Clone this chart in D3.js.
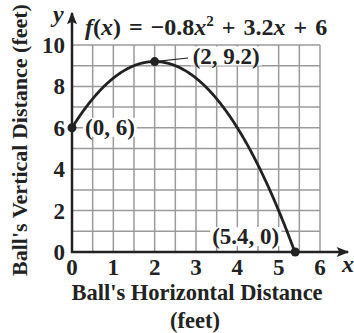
<!DOCTYPE html>
<html>
<head>
<meta charset="utf-8">
<script src="https://cdn.jsdelivr.net/npm/d3@7"></script>
<style>
  body { margin: 0; background: #fff; }
  text { font-family: "Liberation Serif", "DejaVu Serif", serif; font-weight: bold; fill: #222; }
</style>
</head>
<body>
<svg width="354" height="333"></svg>
<script>
// chart data
const xTicks = [0, 1, 2, 3, 4, 5, 6];
const yTicks = [0, 2, 4, 6, 8, 10];
const xGrid = [0, 0.5, 1, 1.5, 2, 2.5, 3, 3.5, 4, 4.5, 5, 5.5, 6];
const yGrid = [0, 1, 2, 3, 4, 5, 6, 7, 8, 9, 10];
const coef = [-0.8, 3.2, 6];          // a, b, c from the title
const xDomainCurve = [0, 5.4];
const points = [
  { x: 0, y: 6, label: "(0, 6)" },
  { x: 2, y: 9.2, label: "(2, 9.2)" },
  { x: 5.4, y: 0, label: "(5.4, 0)" }
];

const svg = d3.select("svg");

// scales
const x = d3.scaleLinear().domain([0, 6]).range([72, 320]);
const y = d3.scaleLinear().domain([0, 10]).range([252, 45]);

// grid
const grid = svg.append("g").attr("stroke", "#9a9a9a").attr("stroke-width", 1.5);
grid.selectAll(".vx").data(xGrid).enter().append("line")
  .attr("x1", d => x(d)).attr("x2", d => x(d))
  .attr("y1", y(0)).attr("y2", y(10));
grid.selectAll(".hy").data(yGrid).enter().append("line")
  .attr("x1", x(0)).attr("x2", x(6))
  .attr("y1", d => y(d)).attr("y2", d => y(d));

// axes with arrows
svg.append("defs").append("marker")
  .attr("id", "arr").attr("viewBox", "0 0 10 10")
  .attr("refX", 9).attr("refY", 5)
  .attr("markerWidth", 6).attr("markerHeight", 5)
  .attr("markerUnits", "strokeWidth")
  .attr("orient", "auto")
  .append("path").attr("d", "M0,1 L10,5 L0,9 L2,5 Z").attr("fill", "#222");

svg.append("line")
  .attr("x1", x(0) - 1).attr("x2", 348)
  .attr("y1", y(0)).attr("y2", y(0))
  .attr("stroke", "#222").attr("stroke-width", 2.5)
  .attr("marker-end", "url(#arr)");
svg.append("line")
  .attr("x1", x(0)).attr("x2", x(0))
  .attr("y1", y(0) + 1).attr("y2", 13)
  .attr("stroke", "#222").attr("stroke-width", 2.5)
  .attr("marker-end", "url(#arr)");

// tick labels
svg.selectAll(".xt").data(xTicks).enter().append("text")
  .attr("x", d => x(d)).attr("y", 275)
  .attr("text-anchor", "middle").attr("font-size", 23)
  .text(d => d);
svg.selectAll(".yt").data(yTicks).enter().append("text")
  .attr("x", 65).attr("y", d => y(d) + 8)
  .attr("text-anchor", "end").attr("font-size", 23)
  .text(d => d);

// axis letters
svg.append("text").attr("x", 53).attr("y", 22).attr("font-size", 24)
  .attr("font-style", "italic").text("y");
svg.append("text").attr("x", 342).attr("y", 272).attr("font-size", 24)
  .attr("font-style", "italic").text("x");

// axis titles
svg.append("text").attr("x", 197).attr("y", 300)
  .attr("text-anchor", "middle").attr("font-size", 22.5)
  .text("Ball's Horizontal Distance");
svg.append("text").attr("x", 195).attr("y", 328)
  .attr("text-anchor", "middle").attr("font-size", 22.5)
  .text("(feet)");
svg.append("text")
  .attr("transform", "translate(27,140) rotate(-90)")
  .attr("text-anchor", "middle").attr("font-size", 22)
  .text("Ball's Vertical Distance (feet)");

// title
const t = svg.append("text").attr("x", 85).attr("y", 35).attr("font-size", 24)
  .attr("word-spacing", 2);
t.append("tspan").attr("font-style", "italic").text("f");
t.append("tspan").text("(");
t.append("tspan").attr("font-style", "italic").text("x");
t.append("tspan").text(") = \u2212" + Math.abs(coef[0]));
t.append("tspan").attr("font-style", "italic").text("x");
t.append("tspan").attr("font-size", 15).attr("dy", -9).text("2");
t.append("tspan").attr("dy", 9).text(" + " + coef[1]);
t.append("tspan").attr("font-style", "italic").text("x");
t.append("tspan").text(" + " + coef[2]);

// curve
const f = v => coef[0] * v * v + coef[1] * v + coef[2];
const xs = d3.range(0, 541).map(i => xDomainCurve[0] + (xDomainCurve[1] - xDomainCurve[0]) * i / 540);
svg.append("path")
  .datum(xs)
  .attr("fill", "none").attr("stroke", "#222").attr("stroke-width", 2.8)
  .attr("d", d3.line().x(d => x(d)).y(d => y(f(d))));

// leader line for vertex label
svg.append("line")
  .attr("x1", x(2)).attr("y1", y(9.2))
  .attr("x2", 188).attr("y2", 58)
  .attr("stroke", "#222").attr("stroke-width", 1.2);

// label backgrounds and labels
const labelPos = [
  { dx: 13, dy: 7 },
  { dx: 38, dy: 2 },
  { dx: -83, dy: -8 }
];
points.forEach((p, i) => {
  const g = svg.append("g");
  const txt = g.append("text")
    .attr("x", x(p.x) + labelPos[i].dx)
    .attr("y", y(p.y) + labelPos[i].dy)
    .attr("font-size", 23)
    .text(p.label);
  const bb = txt.node().getBBox();
  g.insert("rect", "text")
    .attr("x", bb.x - 2).attr("y", bb.y + 3)
    .attr("width", bb.width + 4).attr("height", bb.height - 6)
    .attr("fill", "#fff");
});

// dots
svg.selectAll(".pt").data(points).enter().append("circle")
  .attr("cx", d => x(d.x)).attr("cy", d => y(d.y))
  .attr("r", 4.5).attr("fill", "#222");
</script>
</body>
</html>
